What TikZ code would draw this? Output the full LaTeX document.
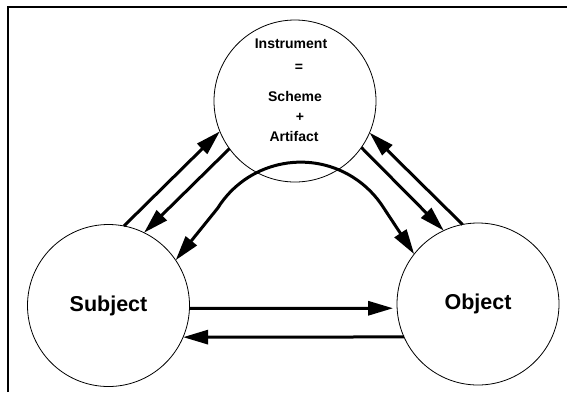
\documentclass[tikz,border=0pt]{standalone}
\usepackage{fontspec}
\setmainfont{Liberation Sans}
\usetikzlibrary{arrows.meta}

\begin{document}
\begin{tikzpicture}[x=1pt,y=-1pt,
  circ/.style={circle,draw,line width=0.8pt,minimum size=162pt,inner sep=0pt,outer sep=0pt,font=\bfseries\fontsize{21.5}{24}\selectfont},
  flow/.style={line width=3pt,-{Triangle[length=25pt,width=14pt]}},
  twoway/.style={line width=3pt,{Triangle[length=25pt,width=14pt]}-{Triangle[length=25pt,width=14pt]}},
  word/.style={anchor=base,font=\bfseries\fontsize{14}{16}\selectfont}]

\useasboundingbox (0,0) rectangle (567,392);

\draw [line width=2.2pt] (7.8,392) -- (7.8,6.8) -- (567,6.8);

\node [circ] (instrument) at (295,101) {};
\node [circ] (subject) at (108.5,305.5) {Subject};
\node [circ] (object) at (478,304) {Object};

\node [word] (instr) at (291,48) {Instrument};
\node [word] (equals) at (299,71.6) {=};
\node [word] (scheme) at (295,101) {Scheme};
\node [word] (plus) at (300,121.6) {+};
\node [word] (artifact) at (294,141) {Artifact};

\draw [flow] (subject.79) -- (instrument.202);
\draw [flow] (instrument.216) -- (subject.64);
\draw [flow] (object.101) -- (instrument.-23);
\draw [flow] (instrument.-35) -- (object.115);
\draw [flow,shorten >=4pt] (subject.-2) -- (object.183);
\draw [flow] (object.204) -- (subject.-23);

\draw [twoway] (subject.34) -- ++(42,-52) arc [start angle=212,end angle=328,radius=98] -- (object.142);

\end{tikzpicture}
\end{document}
